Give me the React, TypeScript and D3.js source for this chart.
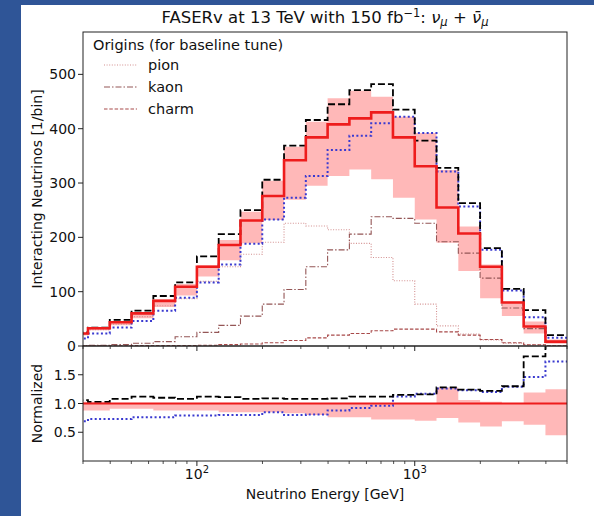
import React from 'react';
import * as d3 from 'd3';

// bin edges: 10^1.4 ... 10^3.7 (first bin only partly visible)
const binEdges = [25.12, 31.62, 39.81, 50.12, 63.1, 79.43, 100, 125.89, 158.49, 199.53, 251.19, 316.23,
  398.11, 501.19, 630.96, 794.33, 1000, 1258.93, 1584.89, 1995.26, 2511.89, 3162.28, 3981.07, 5011.87];

// top panel: interacting neutrinos per bin
const baseline = [23, 32.6, 43.6, 60, 83, 109, 146, 186, 231, 276, 342, 384, 408, 419, 430, 384, 331, 255, 207, 146, 80, 36, 8];
const altDashed = [25, 34, 48, 65, 92, 117, 165, 206, 250, 306, 369, 416, 445, 471, 482, 435, 378, 328, 263, 180, 105, 66, 20];
const altDotted = [14, 23, 34, 46, 65, 89, 117, 150, 188, 233, 273, 313, 361, 387, 410, 422, 392, 321, 257, 177, 102, 53, 15];
const bandLow = [20, 29, 38, 51, 72, 93, 128, 158, 189, 232, 269, 295, 313, 325, 307, 273, 233, 190, 138, 88, 55, 23, 4];
const bandHigh = [25, 34, 45, 62, 86, 114, 149, 195, 247, 304, 367, 413, 456, 470, 459, 422, 392, 324, 220, 150, 82, 45, 12];

// origins (baseline tune)
const pion = [21, 30, 40, 54, 74, 87, 119, 146, 169, 191, 226, 221, 214, 189, 163, 120, 77, 37, 22, 11, 5, 2, 0.5];
const kaon = [1, 1.5, 2.5, 5, 8, 17, 25, 38, 55, 77, 104, 146, 177, 206, 238, 235, 226, 192, 171, 125, 70, 32, 7];
const charm = [0.2, 0.3, 0.4, 0.6, 0.8, 1, 1.5, 2.5, 3.7, 6, 10, 15, 20, 23, 28, 31, 31, 26, 20, 12, 6, 2.4, 0.5];

// bottom panel: normalized to baseline
const ratioDashed = [1.06, 1.03, 1.08, 1.12, 1.1, 1.08, 1.12, 1.11, 1.08, 1.09, 1.08, 1.08, 1.09, 1.12, 1.12, 1.15, 1.16, 1.28, 1.24, 1.22, 1.3, 1.82, 2.5];
const ratioDotted = [0.69, 0.73, 0.73, 0.76, 0.76, 0.79, 0.79, 0.8, 0.8, 0.85, 0.8, 0.81, 0.88, 0.92, 0.96, 1.12, 1.17, 1.26, 1.23, 1.2, 1.29, 1.46, 1.73];
const ratioLow = [0.88, 0.88, 0.91, 0.91, 0.88, 0.88, 0.88, 0.85, 0.85, 0.85, 0.83, 0.8, 0.76, 0.76, 0.72, 0.72, 0.7, 0.75, 0.67, 0.6, 0.69, 0.63, 0.45];
const ratioHigh = [1.03, 1.03, 1.0, 1.0, 1.0, 1.0, 1.0, 1.0, 1.0, 1.0, 1.0, 1.0, 1.0, 1.0, 1.0, 1.0, 1.0, 1.28, 1.06, 1.03, 1.0, 1.19, 1.25];

const yTicksTop = [0, 100, 200, 300, 400, 500];
const yTicksBottom = [0.5, 1.0, 1.5];
const xMajor = [{ v: 100, exp: '2' }, { v: 1000, exp: '3' }];
const xMinor = [30, 40, 50, 60, 70, 80, 90, 200, 300, 400, 500, 600, 700, 800, 900, 2000, 3000, 4000, 5000];

const origins = [
  { name: 'pion', values: pion, color: '#d39090', dash: '1,1.6' },
  { name: 'kaon', values: kaon, color: '#945656', dash: '6,2,1.5,2' },
  { name: 'charm', values: charm, color: '#a84a4a', dash: '3.5,1.8' },
];

const W = 594;
const H = 516;
const L = 83;
const R = 567;
const T = 32;
const MID = 346;
const B = 461;
const FONT = 'DejaVu Sans, Verdana, sans-serif';

const x = d3.scaleLog().domain([30, 5000]).range([L, R]);
const yTop = d3.scaleLinear().domain([0, 578]).range([MID, T]);
const yBot = d3.scaleLinear().domain([0, 2]).range([B, MID]);

const steps = (vals: number[]) => binEdges.map((e, i) => [e, vals[Math.min(i, vals.length - 1)]] as [number, number]);

const App = () => {
  const lineTop = d3.line<[number, number]>().x(d => x(d[0])).y(d => yTop(d[1])).curve(d3.curveStepAfter);
  const lineBot = d3.line<[number, number]>().x(d => x(d[0])).y(d => yBot(d[1])).curve(d3.curveStepAfter);
  const bandTop = d3.area<number>()
    .x(i => x(binEdges[i]))
    .y0(i => yTop(bandLow[Math.min(i, bandLow.length - 1)]))
    .y1(i => yTop(bandHigh[Math.min(i, bandHigh.length - 1)]))
    .curve(d3.curveStepAfter);
  const bandBot = d3.area<number>()
    .x(i => x(binEdges[i]))
    .y0(i => yBot(ratioLow[Math.min(i, ratioLow.length - 1)]))
    .y1(i => yBot(ratioHigh[Math.min(i, ratioHigh.length - 1)]))
    .curve(d3.curveStepAfter);
  const idx = binEdges.map((_, i) => i);
  const ones = baseline.map(() => 1);

  const xTicks = (yy: number) => (
    <g>
      {xMajor.map(t => <line key={'M' + t.v} x1={x(t.v)} x2={x(t.v)} y1={yy} y2={yy + 5} stroke="#222" strokeWidth={1} />)}
      {xMinor.map(v => <line key={'m' + v} x1={x(v)} x2={x(v)} y1={yy} y2={yy + 3} stroke="#222" strokeWidth={0.8} />)}
    </g>
  );

  return (
    <svg width={W} height={H} style={{ position: 'absolute', left: 0, top: 0 }} fontFamily={FONT}>
      <defs>
        <clipPath id="clipTop"><rect x={L} y={T} width={R - L} height={MID - T} /></clipPath>
        <clipPath id="clipBot"><rect x={L} y={MID} width={R - L} height={B - MID} /></clipPath>
      </defs>
      <rect x={0} y={0} width={W} height={H} fill="#2f5597" />
      <rect x={21} y={5} width={W - 21} height={H - 5} fill="#ffffff" />

      {/* title */}
      <text x={325} y={23} textAnchor="middle" fontSize={16.5} fill="#111">
        {'FASERv at 13 TeV with 150 fb'}
        <tspan dy={-6} fontSize={11.5}>{'\u22121'}</tspan>
        <tspan dy={6}>{': '}</tspan>
        <tspan fontStyle="italic">{'\u03bd'}</tspan>
        <tspan dy={3} fontSize={11.5} fontStyle="italic">{'\u03bc'}</tspan>
        <tspan dy={-3}>{' + '}</tspan>
        <tspan fontStyle="italic">{'\u03bd\u0304'}</tspan>
        <tspan dy={3} fontSize={11.5} fontStyle="italic">{'\u03bc'}</tspan>
      </text>

      {/* top panel */}
      <g clipPath="url(#clipTop)">
        <path d={bandTop(idx) || ''} fill="#ff0000" fillOpacity={0.28} stroke="none" />
        {origins.map(o => (
          <path key={o.name} d={lineTop(steps(o.values)) || ''} fill="none" stroke={o.color} strokeWidth={1.1} strokeDasharray={o.dash} />
        ))}
        <path d={lineTop(steps(altDotted)) || ''} fill="none" stroke="#3a3ad0" strokeWidth={2} strokeDasharray="2,2.4" />
        <path d={lineTop(steps(altDashed)) || ''} fill="none" stroke="#000" strokeWidth={1.8} strokeDasharray="7,3" />
        <path d={lineTop(steps(baseline)) || ''} fill="none" stroke="#ee1c1c" strokeWidth={2.6} />
      </g>

      {/* legend */}
      <text x={93} y={50} fontSize={14.5} fill="#111">Origins (for baseline tune)</text>
      {origins.map((o, i) => (
        <g key={o.name}>
          <line x1={104} x2={137} y1={65 + i * 22} y2={65 + i * 22} stroke={o.color} strokeWidth={1.1} strokeDasharray={o.dash} />
          <text x={148} y={70 + i * 22} fontSize={14.5} fill="#111">{o.name}</text>
        </g>
      ))}

      {/* bottom panel */}
      <g clipPath="url(#clipBot)">
        <path d={bandBot(idx) || ''} fill="#ff0000" fillOpacity={0.28} stroke="none" />
        <path d={lineBot(steps(ratioDotted)) || ''} fill="none" stroke="#3a3ad0" strokeWidth={2} strokeDasharray="2,2.4" />
        <path d={lineBot(steps(ratioDashed)) || ''} fill="none" stroke="#000" strokeWidth={1.8} strokeDasharray="7,3" />
        <path d={lineBot(steps(ones)) || ''} fill="none" stroke="#ee1c1c" strokeWidth={2} />
      </g>

      {/* frames */}
      <rect x={L} y={T} width={R - L} height={MID - T} fill="none" stroke="#222" strokeWidth={1} />
      <rect x={L} y={MID} width={R - L} height={B - MID} fill="none" stroke="#222" strokeWidth={1} />

      {/* y ticks top */}
      {yTicksTop.map(v => (
        <g key={'yt' + v}>
          <line x1={L - 5} x2={L} y1={yTop(v)} y2={yTop(v)} stroke="#222" strokeWidth={1} />
          <text x={L - 7} y={yTop(v) + 5} textAnchor="end" fontSize={14} fill="#111">{v}</text>
        </g>
      ))}
      {yTicksBottom.map(v => (
        <g key={'yb' + v}>
          <line x1={L - 5} x2={L} y1={yBot(v)} y2={yBot(v)} stroke="#222" strokeWidth={1} />
          <text x={L - 7} y={yBot(v) + 5} textAnchor="end" fontSize={14} fill="#111">{v.toFixed(1)}</text>
        </g>
      ))}

      {/* x ticks */}
      {xTicks(MID)}
      {xTicks(B)}
      {xMajor.map(t => (
        <text key={'xl' + t.v} x={x(t.v)} y={479} textAnchor="middle" fontSize={14} fill="#111">
          {'10'}<tspan dy={-6} fontSize={10}>{t.exp}</tspan>
        </text>
      ))}

      {/* axis labels */}
      <text x={325} y={499} textAnchor="middle" fontSize={14} fill="#111">Neutrino Energy [GeV]</text>
      <text transform={`translate(42, ${(T + MID) / 2}) rotate(-90)`} textAnchor="middle" fontSize={14} fill="#111">Interacting Neutrinos [1/bin]</text>
      <text transform={`translate(42, ${(MID + B) / 2}) rotate(-90)`} textAnchor="middle" fontSize={14} fill="#111">Normalized</text>
    </svg>
  );
};

export default App;
